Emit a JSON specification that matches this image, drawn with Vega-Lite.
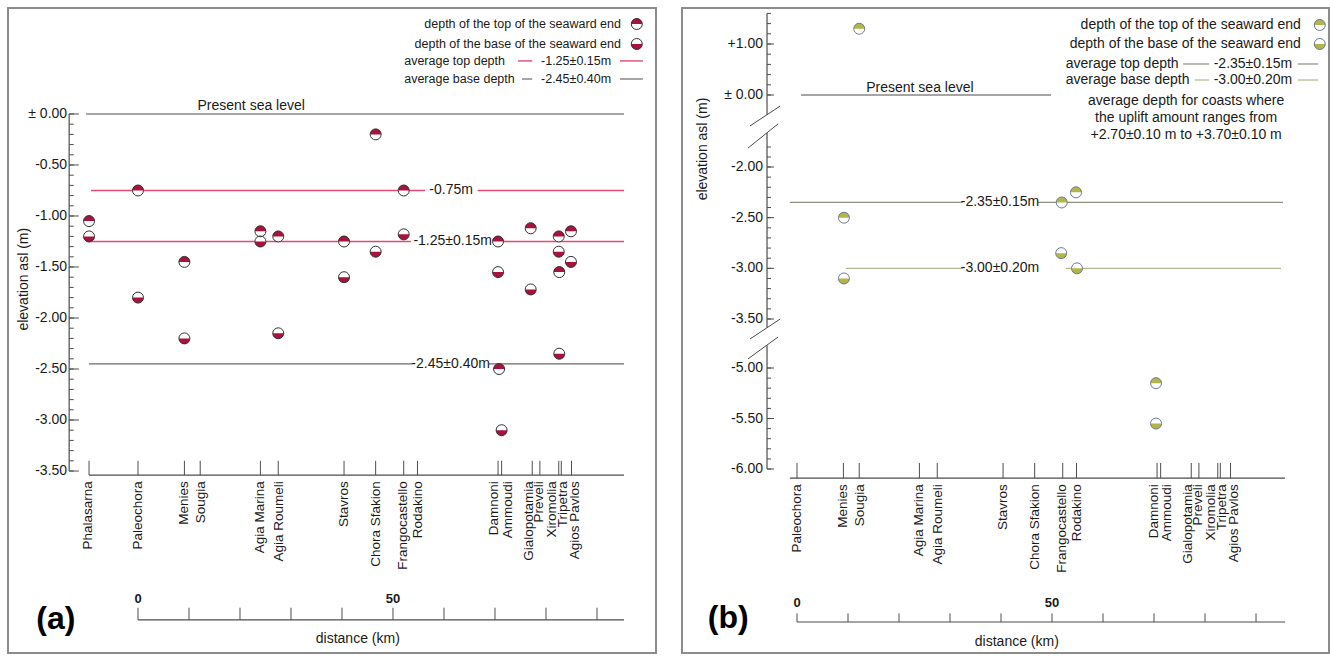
{
"$schema": "https://vega.github.io/schema/vega-lite/v6.json",
"background": "white",
"padding": {"left": 7, "top": 7, "right": 0, "bottom": 0},
"spacing": 24,
"config": {"view": {"stroke": "#8c8c8c", "strokeWidth": 2}, "font": "Liberation Sans", "text": {"font": "Liberation Sans", "color": "#1a1a1a"}},
"resolve": {"scale": {"x": "independent", "y": "independent", "shape": "independent"}},
"datasets": {
"sites": [
{"site":"Phalasarna","km":-9.6,"label_km":-9.9},
{"site":"Paleochora","km":0,"label_km":0},
{"site":"Menies","km":9.1,"label_km":9.1},
{"site":"Sougia","km":12.2,"label_km":12.3},
{"site":"Agia Marina","km":24.0,"label_km":24.0},
{"site":"Agia Roumeli","km":27.5,"label_km":27.6},
{"site":"Stavros","km":40.4,"label_km":40.4},
{"site":"Chora Sfakion","km":46.6,"label_km":46.7},
{"site":"Frangocastello","km":52.1,"label_km":52.0},
{"site":"Rodakino","km":54.8,"label_km":54.9},
{"site":"Damnoni","km":70.6,"label_km":69.9},
{"site":"Ammoudi","km":71.3,"label_km":72.5},
{"site":"Gialopotamia","km":77.3,"label_km":76.7},
{"site":"Preveli","km":78.8,"label_km":78.7},
{"site":"Xiromolia","km":82.5,"label_km":81.2},
{"site":"Tripetra","km":83.0,"label_km":83.4},
{"site":"Agios Pavlos","km":85.0,"label_km":85.7}
],
"pointsA": [
{"site":"Phalasarna","km":-9.6,"m":-1.05,"end":"top"},
{"site":"Phalasarna","km":-9.6,"m":-1.2,"end":"base"},
{"site":"Paleochora","km":0,"m":-0.75,"end":"top"},
{"site":"Paleochora","km":0,"m":-1.8,"end":"base"},
{"site":"Menies","km":9.1,"m":-1.45,"end":"top"},
{"site":"Menies","km":9.1,"m":-2.2,"end":"base"},
{"site":"Agia Marina","km":24.0,"m":-1.15,"end":"top"},
{"site":"Agia Marina","km":24.0,"m":-1.25,"end":"base"},
{"site":"Agia Roumeli","km":27.5,"m":-1.2,"end":"top"},
{"site":"Agia Roumeli","km":27.5,"m":-2.15,"end":"base"},
{"site":"Stavros","km":40.4,"m":-1.25,"end":"top"},
{"site":"Stavros","km":40.4,"m":-1.6,"end":"base"},
{"site":"Chora Sfakion","km":46.6,"m":-0.2,"end":"top"},
{"site":"Chora Sfakion","km":46.6,"m":-1.35,"end":"base"},
{"site":"Frangocastello","km":52.1,"m":-0.75,"end":"top"},
{"site":"Frangocastello","km":52.1,"m":-1.18,"end":"base"},
{"site":"Damnoni","km":70.6,"m":-1.25,"end":"top"},
{"site":"Damnoni","km":70.6,"m":-1.55,"end":"base"},
{"site":"Ammoudi","km":70.8,"m":-2.5,"end":"top"},
{"site":"Ammoudi","km":71.3,"m":-3.1,"end":"base"},
{"site":"Gialopotamia","km":77.0,"m":-1.12,"end":"top"},
{"site":"Gialopotamia","km":77.0,"m":-1.72,"end":"base"},
{"site":"Xiromolia","km":82.5,"m":-1.2,"end":"top"},
{"site":"Xiromolia","km":82.5,"m":-1.35,"end":"base"},
{"site":"Tripetra","km":82.6,"m":-1.55,"end":"top"},
{"site":"Tripetra","km":82.6,"m":-2.35,"end":"base"},
{"site":"Agios Pavlos","km":84.9,"m":-1.15,"end":"top"},
{"site":"Agios Pavlos","km":84.9,"m":-1.45,"end":"base"}
],
"pointsB": [
{"site":"Menies","km":9.2,"m":-2.5,"end":"top"},
{"site":"Menies","km":9.2,"m":-3.1,"end":"base"},
{"site":"Sougia","km":12.2,"m":1.3,"end":"top"},
{"site":"Frangocastello","km":51.9,"m":-2.35,"end":"top"},
{"site":"Frangocastello","km":51.8,"m":-2.85,"end":"base"},
{"site":"Rodakino","km":54.7,"m":-2.25,"end":"top"},
{"site":"Rodakino","km":54.9,"m":-3.0,"end":"base"},
{"site":"Damnoni","km":70.4,"m":-5.15,"end":"top"},
{"site":"Damnoni","km":70.4,"m":-5.55,"end":"base"}
],
"grayLinesA": [
{"km":-10.2,"km2":95.3,"m":0},
{"km":-9.6,"km2":95.3,"m":-3.54},
{"km":0,"km2":95.3,"m":-4.96}
],
"baseLinesA": [
{"km":-9.6,"km2":53.8,"m":-2.45},
{"km":68.8,"km2":95.3,"m":-2.45},
{"km":75.3,"km2":77.3,"m":0.343},
{"km":94.5,"km2":99.0,"m":0.343}
],
"topLinesA": [
{"km":-9.2,"km2":56.3,"m":-0.75},
{"km":66.6,"km2":95.3,"m":-0.75},
{"km":-10.0,"km2":53.5,"m":-1.25},
{"km":69.8,"km2":95.3,"m":-1.25},
{"km":74.5,"km2":77.3,"m":0.52},
{"km":94.5,"km2":99.0,"m":0.52}
],
"grayLinesB": [
{"km":0.8,"km2":49.8,"m":0},
{"km":-1.4,"km2":95.7,"m":-6.09},
{"km":0,"km2":95.7,"m":-7.515}
],
"topLinesB": [
{"km":-1.4,"km2":32.5,"m":-2.35},
{"km":47.2,"km2":95.3,"m":-2.35},
{"km":75.7,"km2":80.8,"m":0.608},
{"km":98.2,"km2":102.2,"m":0.608}
],
"baseLinesB": [
{"km":9.6,"km2":32.5,"m":-3.0},
{"km":52.7,"km2":94.9,"m":-3.0},
{"km":78.0,"km2":80.8,"m":0.294},
{"km":98.2,"km2":102.2,"m":0.294}
],
"vlinesA": [{"km":-13.5,"m":0,"m2":-3.5}],
"vlinesB": [
{"km":-5.88,"m":1.6,"m2":-0.68},
{"km":-5.88,"m":-1.31,"m2":-3.77},
{"km":-5.88,"m":-4.3,"m2":-6.0}
],
"breaksB": [
{"km":-9.2,"km2":-3.3,"m":-1.07,"m2":-0.38},
{"km":-9.6,"km2":-3.7,"m":-1.81,"m2":-1.0},
{"km":-9.2,"km2":-3.3,"m":-4.11,"m2":-3.5},
{"km":-9.6,"km2":-3.7,"m":-4.72,"m2":-4.05}
],
"yTicksA": [
{"m":0,"label":"± 0.00"},{"m":-0.1,"label":""},{"m":-0.2,"label":""},{"m":-0.3,"label":""},{"m":-0.4,"label":""},
{"m":-0.5,"label":"-0.50"},{"m":-0.6,"label":""},{"m":-0.7,"label":""},{"m":-0.8,"label":""},{"m":-0.9,"label":""},
{"m":-1.0,"label":"-1.00"},{"m":-1.1,"label":""},{"m":-1.2,"label":""},{"m":-1.3,"label":""},{"m":-1.4,"label":""},
{"m":-1.5,"label":"-1.50"},{"m":-1.6,"label":""},{"m":-1.7,"label":""},{"m":-1.8,"label":""},{"m":-1.9,"label":""},
{"m":-2.0,"label":"-2.00"},{"m":-2.1,"label":""},{"m":-2.2,"label":""},{"m":-2.3,"label":""},{"m":-2.4,"label":""},
{"m":-2.5,"label":"-2.50"},{"m":-2.6,"label":""},{"m":-2.7,"label":""},{"m":-2.8,"label":""},{"m":-2.9,"label":""},
{"m":-3.0,"label":"-3.00"},{"m":-3.1,"label":""},{"m":-3.2,"label":""},{"m":-3.3,"label":""},{"m":-3.4,"label":""},
{"m":-3.5,"label":"-3.50"}
],
"yTicksB": [
{"m":1.6,"label":""},{"m":1.4,"label":""},{"m":1.2,"label":""},{"m":1.0,"label":"+1.00"},{"m":0.8,"label":""},
{"m":0.6,"label":""},{"m":0.4,"label":""},{"m":0.2,"label":""},{"m":0,"label":"± 0.00"},
{"m":-1.8,"label":""},{"m":-1.9,"label":""},
{"m":-2.0,"label":"-2.00"},{"m":-2.1,"label":""},{"m":-2.2,"label":""},{"m":-2.3,"label":""},{"m":-2.4,"label":""},
{"m":-2.5,"label":"-2.50"},{"m":-2.6,"label":""},{"m":-2.7,"label":""},{"m":-2.8,"label":""},{"m":-2.9,"label":""},
{"m":-3.0,"label":"-3.00"},{"m":-3.1,"label":""},{"m":-3.2,"label":""},{"m":-3.3,"label":""},{"m":-3.4,"label":""},
{"m":-3.5,"label":"-3.50"},
{"m":-5.0,"label":"-5.00"},{"m":-5.1,"label":""},{"m":-5.2,"label":""},{"m":-5.3,"label":""},{"m":-5.4,"label":""},
{"m":-5.5,"label":"-5.50"},{"m":-5.6,"label":""},{"m":-5.7,"label":""},{"m":-5.8,"label":""},{"m":-5.9,"label":""},
{"m":-6.0,"label":"-6.00"}
],
"distTicks": [
{"km":0,"label":"0"},{"km":10,"label":""},{"km":20,"label":""},{"km":30,"label":""},{"km":40,"label":""},
{"km":50,"label":"50"},{"km":60,"label":""},{"km":70,"label":""},{"km":80,"label":""},{"km":90,"label":""}
],
"legSymA": [{"km":97.8,"m":0.882,"end":"top"},{"km":97.8,"m":0.686,"end":"base"}],
"legRightA": [{"text":"depth of the top of the seaward end","km":94.7,"m":0.882},{"text":"depth of the base of the seaward end","km":94.7,"m":0.686}],
"legLeftA": [{"text":"average top depth","km":52.2,"m":0.52},{"text":"average base depth","km":52.2,"m":0.343}],
"legValA": [{"text":"-1.25±0.15m","km":85.9,"m":0.52},{"text":"-2.45±0.40m","km":85.9,"m":0.343}],
"labelsA": [
{"text":"Present sea level","km":22.2,"m":0.078},
{"text":"-0.75m","km":61.4,"m":-0.75},
{"text":"-1.25±0.15m","km":61.7,"m":-1.25},
{"text":"-2.45±0.40m","km":61.3,"m":-2.45},
{"text":"distance (km)","km":43.1,"m":-5.15}
],
"ytitleA": [{"text":"elevation asl (m)","km":-22.35,"m":-1.62}],
"titleA": [{"text":"(a)","km":-16.1,"m":-4.95}],
"legSymB": [{"km":102.5,"m":1.373,"end":"top"},{"km":102.5,"m":1.0,"end":"base"}],
"legRightB": [{"text":"depth of the top of the seaward end","km":98.8,"m":1.373},{"text":"depth of the base of the seaward end","km":98.8,"m":1.0}],
"legLeftB": [{"text":"average top depth","km":52.7,"m":0.608},{"text":"average base depth","km":52.7,"m":0.294}],
"legValB": [{"text":"-2.35±0.15m","km":89.4,"m":0.608},{"text":"-3.00±0.20m","km":89.4,"m":0.294}],
"labelsB": [
{"text":"Present sea level","km":24.1,"m":0.137},
{"text":"-2.35±0.15m","km":39.8,"m":-2.35},
{"text":"-3.00±0.20m","km":39.8,"m":-3.0},
{"text":"distance (km)","km":43.1,"m":-7.71},
{"text":"average depth for coasts where","km":76.3,"m":-0.208},
{"text":"the uplift amount  ranges from","km":76.3,"m":-0.796},
{"text":"+2.70±0.10 m to +3.70±0.10 m","km":76.3,"m":-1.384}
],
"ytitleB": [{"text":"elevation asl (m)","km":-18.4,"m":-1.82}],
"titleB": [{"text":"(b)","km":-13.5,"m":-7.48}]
},
"hconcat": [
{
"width": 648, "height": 645,
"layer": [
{"data":{"name":"grayLinesA"},"mark":{"type":"rule","strokeWidth":1.2,"color":"#4d4d4d"},"encoding":{
"x":{"field":"km","type":"quantitative","scale":{"domain":[-25.49,101.57],"nice":false,"zero":false},"axis":null},
"y":{"field":"m","type":"quantitative","scale":{"domain":[-5.284,1.039],"nice":false,"zero":false},"axis":null},
"x2":{"field":"km2"}}},
{"data":{"name":"baseLinesA"},"mark":{"type":"rule","strokeWidth":1.2,"color":"#6b6b6b"},"encoding":{
"x":{"field":"km","type":"quantitative","scale":{"domain":[-25.49,101.57],"nice":false,"zero":false},"axis":null},
"y":{"field":"m","type":"quantitative","scale":{"domain":[-5.284,1.039],"nice":false,"zero":false},"axis":null},
"x2":{"field":"km2"}}},
{"data":{"name":"vlinesA"},"mark":{"type":"rule","color":"#4d4d4d","strokeWidth":1.2},"encoding":{
"x":{"field":"km","type":"quantitative","scale":{"domain":[-25.49,101.57],"nice":false,"zero":false},"axis":null},
"y":{"field":"m","type":"quantitative","scale":{"domain":[-5.284,1.039],"nice":false,"zero":false},"axis":null},
"y2":{"field":"m2"}}},
{"data":{"name":"yTicksA"},"mark":{"type":"rule","color":"#4d4d4d"},"encoding":{
"x":{"datum":-13.5,"type":"quantitative","scale":{"domain":[-25.49,101.57],"nice":false,"zero":false},"axis":null},
"x2":{"datum":-12.6},
"y":{"field":"m","type":"quantitative","scale":{"domain":[-5.284,1.039],"nice":false,"zero":false},"axis":null}}},
{"data":{"name":"yTicksA"},"transform":[{"filter":"datum.label != ''"}],"mark":{"type":"rule","color":"#4d4d4d"},"encoding":{
"x":{"datum":-13.5,"type":"quantitative","scale":{"domain":[-25.49,101.57],"nice":false,"zero":false},"axis":null},
"x2":{"datum":-11.6},
"y":{"field":"m","type":"quantitative","scale":{"domain":[-5.284,1.039],"nice":false,"zero":false},"axis":null}}},
{"data":{"name":"yTicksA"},"transform":[{"filter":"datum.label != ''"}],"mark":{"type":"text","align":"right","baseline":"middle","fontSize":14},"encoding":{
"x":{"datum":-13.9,"type":"quantitative","scale":{"domain":[-25.49,101.57],"nice":false,"zero":false},"axis":null},
"y":{"field":"m","type":"quantitative","scale":{"domain":[-5.284,1.039],"nice":false,"zero":false},"axis":null},
"text":{"field":"label"}}},
{"data":{"name":"sites"},"mark":{"type":"rule","color":"#4d4d4d"},"encoding":{
"x":{"field":"km","type":"quantitative","scale":{"domain":[-25.49,101.57],"nice":false,"zero":false},"axis":null},
"y":{"datum":-3.54,"type":"quantitative","scale":{"domain":[-5.284,1.039],"nice":false,"zero":false},"axis":null},
"y2":{"datum":-3.40}}},
{"data":{"name":"sites"},"mark":{"type":"text","angle":270,"align":"right","baseline":"middle","fontSize":13.5},"encoding":{
"x":{"field":"label_km","type":"quantitative","scale":{"domain":[-25.49,101.57],"nice":false,"zero":false},"axis":null},
"y":{"datum":-3.6,"type":"quantitative","scale":{"domain":[-5.284,1.039],"nice":false,"zero":false},"axis":null},
"text":{"field":"site"}}},
{"data":{"name":"distTicks"},"mark":{"type":"rule","color":"#4d4d4d"},"encoding":{
"x":{"field":"km","type":"quantitative","scale":{"domain":[-25.49,101.57],"nice":false,"zero":false},"axis":null},
"y":{"datum":-4.96,"type":"quantitative","scale":{"domain":[-5.284,1.039],"nice":false,"zero":false},"axis":null},
"y2":{"datum":-4.84}}},
{"data":{"name":"distTicks"},"transform":[{"filter":"datum.label != ''"}],"mark":{"type":"text","align":"center","baseline":"middle","fontSize":13,"fontWeight":"bold"},"encoding":{
"x":{"field":"km","type":"quantitative","scale":{"domain":[-25.49,101.57],"nice":false,"zero":false},"axis":null},
"y":{"datum":-4.755,"type":"quantitative","scale":{"domain":[-5.284,1.039],"nice":false,"zero":false},"axis":null},
"text":{"field":"label"}}},
{"data":{"name":"topLinesA"},"mark":{"type":"rule","strokeWidth":1.4,"color":"#e04a75"},"encoding":{
"x":{"field":"km","type":"quantitative","scale":{"domain":[-25.49,101.57],"nice":false,"zero":false},"axis":null},
"y":{"field":"m","type":"quantitative","scale":{"domain":[-5.284,1.039],"nice":false,"zero":false},"axis":null},
"x2":{"field":"km2"}}},
{"data":{"name":"pointsA"},
"encoding":{
"x":{"field":"km","type":"quantitative","scale":{"domain":[-25.49,101.57],"nice":false,"zero":false},"axis":null},
"y":{"field":"m","type":"quantitative","scale":{"domain":[-5.284,1.039],"nice":false,"zero":false},"axis":null}},
"layer":[
{"mark":{"type":"point","shape":"M -1 0 A 1 1 0 1 1 1 0 A 1 1 0 1 1 -1 0 Z","filled":true,"color":"white","opacity":1,"size":121}},
{"mark":{"type":"point","filled":true,"color":"#a8123c","opacity":1,"size":121},"encoding":{"shape":{"field":"end","type":"nominal","scale":{"domain":["top","base"],"range":["M -1 0 A 1 1 0 0 1 1 0 Z","M -1 0 A 1 1 0 0 0 1 0 Z"]},"legend":null}}},
{"mark":{"type":"point","shape":"M -1 0 A 1 1 0 1 1 1 0 A 1 1 0 1 1 -1 0 Z","filled":false,"color":"#333333","strokeWidth":1,"opacity":1,"size":121}}
]},
{"data":{"name":"legSymA"},
"encoding":{
"x":{"field":"km","type":"quantitative","scale":{"domain":[-25.49,101.57],"nice":false,"zero":false},"axis":null},
"y":{"field":"m","type":"quantitative","scale":{"domain":[-5.284,1.039],"nice":false,"zero":false},"axis":null}},
"layer":[
{"mark":{"type":"point","shape":"M -1 0 A 1 1 0 1 1 1 0 A 1 1 0 1 1 -1 0 Z","filled":true,"color":"white","opacity":1,"size":121}},
{"mark":{"type":"point","filled":true,"color":"#a8123c","opacity":1,"size":121},"encoding":{"shape":{"field":"end","type":"nominal","scale":{"domain":["top","base"],"range":["M -1 0 A 1 1 0 0 1 1 0 Z","M -1 0 A 1 1 0 0 0 1 0 Z"]},"legend":null}}},
{"mark":{"type":"point","shape":"M -1 0 A 1 1 0 1 1 1 0 A 1 1 0 1 1 -1 0 Z","filled":false,"color":"#333333","strokeWidth":1,"opacity":1,"size":121}}
]},
{"data":{"name":"legRightA"},"mark":{"type":"text","align":"right","baseline":"middle","fontSize":12.5},"encoding":{
"x":{"field":"km","type":"quantitative","scale":{"domain":[-25.49,101.57],"nice":false,"zero":false},"axis":null},
"y":{"field":"m","type":"quantitative","scale":{"domain":[-5.284,1.039],"nice":false,"zero":false},"axis":null},
"text":{"field":"text"}}},
{"data":{"name":"legLeftA"},"mark":{"type":"text","align":"left","baseline":"middle","fontSize":12.5},"encoding":{
"x":{"field":"km","type":"quantitative","scale":{"domain":[-25.49,101.57],"nice":false,"zero":false},"axis":null},
"y":{"field":"m","type":"quantitative","scale":{"domain":[-5.284,1.039],"nice":false,"zero":false},"axis":null},
"text":{"field":"text"}}},
{"data":{"name":"legValA"},"mark":{"type":"text","align":"center","baseline":"middle","fontSize":12.5},"encoding":{
"x":{"field":"km","type":"quantitative","scale":{"domain":[-25.49,101.57],"nice":false,"zero":false},"axis":null},
"y":{"field":"m","type":"quantitative","scale":{"domain":[-5.284,1.039],"nice":false,"zero":false},"axis":null},
"text":{"field":"text"}}},
{"data":{"name":"labelsA"},"mark":{"type":"text","align":"center","baseline":"middle","fontSize":14},"encoding":{
"x":{"field":"km","type":"quantitative","scale":{"domain":[-25.49,101.57],"nice":false,"zero":false},"axis":null},
"y":{"field":"m","type":"quantitative","scale":{"domain":[-5.284,1.039],"nice":false,"zero":false},"axis":null},
"text":{"field":"text"}}},
{"data":{"name":"ytitleA"},"mark":{"type":"text","angle":270,"align":"center","baseline":"middle","fontSize":14},"encoding":{
"x":{"field":"km","type":"quantitative","scale":{"domain":[-25.49,101.57],"nice":false,"zero":false},"axis":null},
"y":{"field":"m","type":"quantitative","scale":{"domain":[-5.284,1.039],"nice":false,"zero":false},"axis":null},
"text":{"field":"text"}}},
{"data":{"name":"titleA"},"mark":{"type":"text","align":"center","baseline":"middle","fontSize":32,"fontWeight":"bold","color":"#000000"},"encoding":{
"x":{"field":"km","type":"quantitative","scale":{"domain":[-25.49,101.57],"nice":false,"zero":false},"axis":null},
"y":{"field":"m","type":"quantitative","scale":{"domain":[-5.284,1.039],"nice":false,"zero":false},"axis":null},
"text":{"field":"text"}}}
]
},
{
"width": 647, "height": 645,
"layer": [
{"data":{"name":"grayLinesB"},"mark":{"type":"rule","strokeWidth":1.2,"color":"#4d4d4d"},"encoding":{
"x":{"field":"km","type":"quantitative","scale":{"domain":[-22.55,104.31],"nice":false,"zero":false},"axis":null},
"y":{"field":"m","type":"quantitative","scale":{"domain":[-7.822,-6,-5,-3.5,-2,-1.8,0,1.706],"range":[645,461,360,311,159,139,87,0],"nice":false,"zero":false},"axis":null},
"x2":{"field":"km2"}}},
{"data":{"name":"topLinesB"},"mark":{"type":"rule","strokeWidth":1.2,"color":"#8f8f80"},"encoding":{
"x":{"field":"km","type":"quantitative","scale":{"domain":[-22.55,104.31],"nice":false,"zero":false},"axis":null},
"y":{"field":"m","type":"quantitative","scale":{"domain":[-7.822,-6,-5,-3.5,-2,-1.8,0,1.706],"range":[645,461,360,311,159,139,87,0],"nice":false,"zero":false},"axis":null},
"x2":{"field":"km2"}}},
{"data":{"name":"baseLinesB"},"mark":{"type":"rule","strokeWidth":1.2,"color":"#b2b78e"},"encoding":{
"x":{"field":"km","type":"quantitative","scale":{"domain":[-22.55,104.31],"nice":false,"zero":false},"axis":null},
"y":{"field":"m","type":"quantitative","scale":{"domain":[-7.822,-6,-5,-3.5,-2,-1.8,0,1.706],"range":[645,461,360,311,159,139,87,0],"nice":false,"zero":false},"axis":null},
"x2":{"field":"km2"}}},
{"data":{"name":"vlinesB"},"mark":{"type":"rule","color":"#4d4d4d","strokeWidth":1.2},"encoding":{
"x":{"field":"km","type":"quantitative","scale":{"domain":[-22.55,104.31],"nice":false,"zero":false},"axis":null},
"y":{"field":"m","type":"quantitative","scale":{"domain":[-7.822,-6,-5,-3.5,-2,-1.8,0,1.706],"range":[645,461,360,311,159,139,87,0],"nice":false,"zero":false},"axis":null},
"y2":{"field":"m2"}}},
{"data":{"name":"breaksB"},"mark":{"type":"rule","color":"#4d4d4d","strokeWidth":1},"encoding":{
"x":{"field":"km","type":"quantitative","scale":{"domain":[-22.55,104.31],"nice":false,"zero":false},"axis":null},
"y":{"field":"m","type":"quantitative","scale":{"domain":[-7.822,-6,-5,-3.5,-2,-1.8,0,1.706],"range":[645,461,360,311,159,139,87,0],"nice":false,"zero":false},"axis":null},
"x2":{"field":"km2"},"y2":{"field":"m2"}}},
{"data":{"name":"yTicksB"},"mark":{"type":"rule","color":"#4d4d4d"},"encoding":{
"x":{"datum":-5.88,"type":"quantitative","scale":{"domain":[-22.55,104.31],"nice":false,"zero":false},"axis":null},
"x2":{"datum":-5.1},
"y":{"field":"m","type":"quantitative","scale":{"domain":[-7.822,-6,-5,-3.5,-2,-1.8,0,1.706],"range":[645,461,360,311,159,139,87,0],"nice":false,"zero":false},"axis":null}}},
{"data":{"name":"yTicksB"},"transform":[{"filter":"datum.label != ''"}],"mark":{"type":"rule","color":"#4d4d4d"},"encoding":{
"x":{"datum":-5.88,"type":"quantitative","scale":{"domain":[-22.55,104.31],"nice":false,"zero":false},"axis":null},
"x2":{"datum":-4.51},
"y":{"field":"m","type":"quantitative","scale":{"domain":[-7.822,-6,-5,-3.5,-2,-1.8,0,1.706],"range":[645,461,360,311,159,139,87,0],"nice":false,"zero":false},"axis":null}}},
{"data":{"name":"yTicksB"},"transform":[{"filter":"datum.label != ''"}],"mark":{"type":"text","align":"right","baseline":"middle","fontSize":14},"encoding":{
"x":{"datum":-6.67,"type":"quantitative","scale":{"domain":[-22.55,104.31],"nice":false,"zero":false},"axis":null},
"y":{"field":"m","type":"quantitative","scale":{"domain":[-7.822,-6,-5,-3.5,-2,-1.8,0,1.706],"range":[645,461,360,311,159,139,87,0],"nice":false,"zero":false},"axis":null},
"text":{"field":"label"}}},
{"data":{"name":"sites"},"transform":[{"filter":"datum.site != 'Phalasarna'"}],"mark":{"type":"rule","color":"#4d4d4d"},"encoding":{
"x":{"field":"km","type":"quantitative","scale":{"domain":[-22.55,104.31],"nice":false,"zero":false},"axis":null},
"y":{"datum":-6.09,"type":"quantitative","scale":{"domain":[-7.822,-6,-5,-3.5,-2,-1.8,0,1.706],"range":[645,461,360,311,159,139,87,0],"nice":false,"zero":false},"axis":null},
"y2":{"datum":-5.94}}},
{"data":{"name":"sites"},"transform":[{"filter":"datum.site != 'Phalasarna'"}],"mark":{"type":"text","angle":270,"align":"right","baseline":"middle","fontSize":13.5},"encoding":{
"x":{"field":"label_km","type":"quantitative","scale":{"domain":[-22.55,104.31],"nice":false,"zero":false},"axis":null},
"y":{"datum":-6.15,"type":"quantitative","scale":{"domain":[-7.822,-6,-5,-3.5,-2,-1.8,0,1.706],"range":[645,461,360,311,159,139,87,0],"nice":false,"zero":false},"axis":null},
"text":{"field":"site"}}},
{"data":{"name":"distTicks"},"mark":{"type":"rule","color":"#4d4d4d"},"encoding":{
"x":{"field":"km","type":"quantitative","scale":{"domain":[-22.55,104.31],"nice":false,"zero":false},"axis":null},
"y":{"datum":-7.515,"type":"quantitative","scale":{"domain":[-7.822,-6,-5,-3.5,-2,-1.8,0,1.706],"range":[645,461,360,311,159,139,87,0],"nice":false,"zero":false},"axis":null},
"y2":{"datum":-7.43}}},
{"data":{"name":"distTicks"},"transform":[{"filter":"datum.label != ''"}],"mark":{"type":"text","align":"center","baseline":"middle","fontSize":13,"fontWeight":"bold"},"encoding":{
"x":{"field":"km","type":"quantitative","scale":{"domain":[-22.55,104.31],"nice":false,"zero":false},"axis":null},
"y":{"datum":-7.33,"type":"quantitative","scale":{"domain":[-7.822,-6,-5,-3.5,-2,-1.8,0,1.706],"range":[645,461,360,311,159,139,87,0],"nice":false,"zero":false},"axis":null},
"text":{"field":"label"}}},
{"data":{"name":"pointsB"},
"encoding":{
"x":{"field":"km","type":"quantitative","scale":{"domain":[-22.55,104.31],"nice":false,"zero":false},"axis":null},
"y":{"field":"m","type":"quantitative","scale":{"domain":[-7.822,-6,-5,-3.5,-2,-1.8,0,1.706],"range":[645,461,360,311,159,139,87,0],"nice":false,"zero":false},"axis":null}},
"layer":[
{"mark":{"type":"point","shape":"M -1 0 A 1 1 0 1 1 1 0 A 1 1 0 1 1 -1 0 Z","filled":true,"color":"white","opacity":1,"size":121}},
{"mark":{"type":"point","filled":true,"color":"#b3b544","opacity":1,"size":121},"encoding":{"shape":{"field":"end","type":"nominal","scale":{"domain":["top","base"],"range":["M -1 0 A 1 1 0 0 1 1 0 Z","M -1 0 A 1 1 0 0 0 1 0 Z"]},"legend":null}}},
{"mark":{"type":"point","shape":"M -1 0 A 1 1 0 1 1 1 0 A 1 1 0 1 1 -1 0 Z","filled":false,"color":"#6d7a99","strokeWidth":1,"opacity":1,"size":121}}
]},
{"data":{"name":"legSymB"},
"encoding":{
"x":{"field":"km","type":"quantitative","scale":{"domain":[-22.55,104.31],"nice":false,"zero":false},"axis":null},
"y":{"field":"m","type":"quantitative","scale":{"domain":[-7.822,-6,-5,-3.5,-2,-1.8,0,1.706],"range":[645,461,360,311,159,139,87,0],"nice":false,"zero":false},"axis":null}},
"layer":[
{"mark":{"type":"point","shape":"M -1 0 A 1 1 0 1 1 1 0 A 1 1 0 1 1 -1 0 Z","filled":true,"color":"white","opacity":1,"size":121}},
{"mark":{"type":"point","filled":true,"color":"#b3b544","opacity":1,"size":121},"encoding":{"shape":{"field":"end","type":"nominal","scale":{"domain":["top","base"],"range":["M -1 0 A 1 1 0 0 1 1 0 Z","M -1 0 A 1 1 0 0 0 1 0 Z"]},"legend":null}}},
{"mark":{"type":"point","shape":"M -1 0 A 1 1 0 1 1 1 0 A 1 1 0 1 1 -1 0 Z","filled":false,"color":"#6d7a99","strokeWidth":1,"opacity":1,"size":121}}
]},
{"data":{"name":"legRightB"},"mark":{"type":"text","align":"right","baseline":"middle","fontSize":14},"encoding":{
"x":{"field":"km","type":"quantitative","scale":{"domain":[-22.55,104.31],"nice":false,"zero":false},"axis":null},
"y":{"field":"m","type":"quantitative","scale":{"domain":[-7.822,-6,-5,-3.5,-2,-1.8,0,1.706],"range":[645,461,360,311,159,139,87,0],"nice":false,"zero":false},"axis":null},
"text":{"field":"text"}}},
{"data":{"name":"legLeftB"},"mark":{"type":"text","align":"left","baseline":"middle","fontSize":14},"encoding":{
"x":{"field":"km","type":"quantitative","scale":{"domain":[-22.55,104.31],"nice":false,"zero":false},"axis":null},
"y":{"field":"m","type":"quantitative","scale":{"domain":[-7.822,-6,-5,-3.5,-2,-1.8,0,1.706],"range":[645,461,360,311,159,139,87,0],"nice":false,"zero":false},"axis":null},
"text":{"field":"text"}}},
{"data":{"name":"legValB"},"mark":{"type":"text","align":"center","baseline":"middle","fontSize":14},"encoding":{
"x":{"field":"km","type":"quantitative","scale":{"domain":[-22.55,104.31],"nice":false,"zero":false},"axis":null},
"y":{"field":"m","type":"quantitative","scale":{"domain":[-7.822,-6,-5,-3.5,-2,-1.8,0,1.706],"range":[645,461,360,311,159,139,87,0],"nice":false,"zero":false},"axis":null},
"text":{"field":"text"}}},
{"data":{"name":"labelsB"},"mark":{"type":"text","align":"center","baseline":"middle","fontSize":14},"encoding":{
"x":{"field":"km","type":"quantitative","scale":{"domain":[-22.55,104.31],"nice":false,"zero":false},"axis":null},
"y":{"field":"m","type":"quantitative","scale":{"domain":[-7.822,-6,-5,-3.5,-2,-1.8,0,1.706],"range":[645,461,360,311,159,139,87,0],"nice":false,"zero":false},"axis":null},
"text":{"field":"text"}}},
{"data":{"name":"ytitleB"},"mark":{"type":"text","angle":270,"align":"center","baseline":"middle","fontSize":14},"encoding":{
"x":{"field":"km","type":"quantitative","scale":{"domain":[-22.55,104.31],"nice":false,"zero":false},"axis":null},
"y":{"field":"m","type":"quantitative","scale":{"domain":[-7.822,-6,-5,-3.5,-2,-1.8,0,1.706],"range":[645,461,360,311,159,139,87,0],"nice":false,"zero":false},"axis":null},
"text":{"field":"text"}}},
{"data":{"name":"titleB"},"mark":{"type":"text","align":"center","baseline":"middle","fontSize":32,"fontWeight":"bold","color":"#000000"},"encoding":{
"x":{"field":"km","type":"quantitative","scale":{"domain":[-22.55,104.31],"nice":false,"zero":false},"axis":null},
"y":{"field":"m","type":"quantitative","scale":{"domain":[-7.822,-6,-5,-3.5,-2,-1.8,0,1.706],"range":[645,461,360,311,159,139,87,0],"nice":false,"zero":false},"axis":null},
"text":{"field":"text"}}}
]
}
]
}
